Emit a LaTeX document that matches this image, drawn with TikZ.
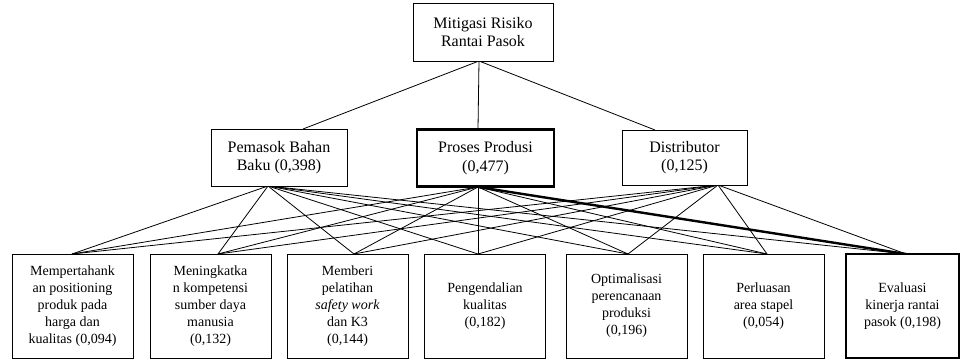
\documentclass[tikz,border=0pt]{standalone}
\usepackage{fontspec}
\setmainfont{Liberation Serif}
\usepackage{tikz}
\usetikzlibrary{backgrounds}
\pgfdeclarelayer{edgelayer}
\pgfdeclarelayer{nodelayer}
\pgfsetlayers{edgelayer,nodelayer,main}
\tikzstyle{box}=[rectangle, draw=black, fill=white, line width=0.7, align=center, inner sep=1pt, font=\fontsize{12}{14}\selectfont]
\tikzstyle{goal}=[style=box, minimum width=105pt, minimum height=43.5pt]
\tikzstyle{criterion}=[style=box, minimum height=42.75pt]
\tikzstyle{option}=[style=box, minimum width=90.75pt, minimum height=78pt, font=\fontsize{10.5}{12.8}\selectfont]
\tikzstyle{chosen}=[line width=2.2]
\tikzstyle{link}=[-, draw=black, line width=0.6]
\tikzstyle{boldlink}=[-, draw=black, line width=1.8]

\begin{document}
\begin{tikzpicture}[x=0.75pt, y=-0.75pt]
            \useasboundingbox (0,0) rectangle (961,360);
            \begin{pgfonlayer}{nodelayer}
                \node [style=goal] (goal) at (483, 32) {Mitigasi Risiko\\Rantai Pasok};
                \node [style=criterion, minimum width=102pt] (pemasok) at (279, 157.5) {Pemasok Bahan\\Baku (0,398)};
                \node [style=criterion, style=chosen, minimum width=102.75pt] (proses) at (485.5, 158) {Proses Produsi\\(0,477)};
                \node [style=criterion, minimum width=93.75pt, minimum height=41.25pt] (distributor) at (684.5, 157.5) {Distributor\\(0,125)};

                \node [style=option] (alt1) at (72.5, 306) {Mempertahank\\an positioning\\produk pada\\harga dan\\kualitas (0,094)};
                \node [style=option] (alt2) at (210.5, 306) {Meningkatka\\n kompetensi\\sumber daya\\manusia\\(0,132)};
                \node [style=option] (alt3) at (347.5, 306) {Memberi\\pelatihan\\\textit{safety work}\\dan K3\\(0,144)};
                \node [style=option] (alt4) at (485, 306) {Pengendalian\\kualitas\\(0,182)};
                \node [style=option] (alt5) at (626.5, 306) {Optimalisasi\\perencanaan\\produksi\\(0,196)};
                \node [style=option] (alt6) at (763.5, 306) {Perluasan\\area stapel\\(0,054)};
                \node [style=option, style=chosen, minimum width=84.75pt] (alt7) at (902.5, 306) {Evaluasi\\kinerja rantai\\pasok (0,198)};

                % junctions where the lines meet the boxes
                \coordinate (goalS) at (479, 61);
                \coordinate (pemasokN) at (303, 129);
                \coordinate (prosesN) at (478, 129);
                \coordinate (distributorN) at (655, 130);
                \coordinate (pemasokS) at (268, 186);
                \coordinate (prosesS) at (478, 187);
                \coordinate (distributorS) at (718, 185);
                \coordinate (alt1N) at (72, 254);
                \coordinate (alt2N) at (218, 254);
                \coordinate (alt3N) at (354, 254);
                \coordinate (alt4N) at (478, 254);
                \coordinate (alt5N) at (628, 254);
                \coordinate (alt6N) at (767, 254);
                \coordinate (alt7N) at (906, 254);
            \end{pgfonlayer}
            \begin{pgfonlayer}{edgelayer}
                \draw [style=link] (goalS) to (pemasokN);
                \draw [style=link] (goalS) to (prosesN);
                \draw [style=link] (goalS) to (distributorN);

                \foreach \k in {1,...,7}
                    \draw [style=link] (pemasokS) to (alt\k N);
                \foreach \k in {1,...,6}
                    \draw [style=link] (prosesS) to (alt\k N);
                \draw [style=boldlink] (prosesS) to (alt7N);
                \foreach \k in {1,...,7}
                    \draw [style=link] (distributorS) to (alt\k N);
            \end{pgfonlayer}
        \end{tikzpicture}
\end{document}
